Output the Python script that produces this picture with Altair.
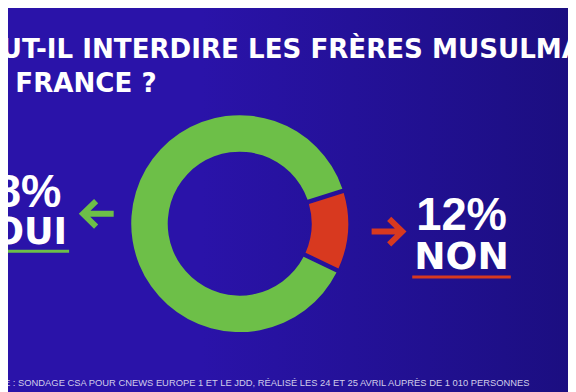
import math
import altair as alt
import pandas as pd

# ---- data ----
categories = ["NON", "OUI"]
values = [12, 88]
order = [0, 1]
colors = ["#d8391f", "#6dbf48"]
title_lines = ["FAUT-IL INTERDIRE LES FRÈRES MUSULMANS", "EN FRANCE ?"]
source_text = "SOURCE : SONDAGE CSA POUR CNEWS EUROPE 1 ET LE JDD, RÉALISÉ LES 24 ET 25 AVRIL AUPRÈS DE 1 010 PERSONNES"

W, H = 568, 384
BG_LEFT, BG_RIGHT = "#2a13a9", "#1b0e80"

one = pd.DataFrame({"k": [0]})

bg = alt.Chart(one).mark_rect(
    color=alt.Gradient(
        gradient="linear",
        stops=[alt.GradientStop(color=BG_LEFT, offset=0),
               alt.GradientStop(color=BG_LEFT, offset=0.35),
               alt.GradientStop(color=BG_RIGHT, offset=1)],
        x1=0, x2=1, y1=0, y2=0,
    )
).encode(x=alt.value(-10), x2=alt.value(W + 10), y=alt.value(-10), y2=alt.value(H + 10))

pie_df = pd.DataFrame({"cat": categories, "value": values, "ord": order})
start = math.radians(72.4)
donut = alt.Chart(pie_df).mark_arc(innerRadius=73, outerRadius=110, padAngle=0.035).encode(
    theta=alt.Theta("value:Q", stack=True, scale=alt.Scale(range=[start, start + 2 * math.pi])),
    color=alt.Color("cat:N", scale=alt.Scale(domain=categories, range=colors), legend=None),
    order=alt.Order("ord:Q"),
    x=alt.value(235),
    y=alt.value(216),
)


def text_layer(txt, x, y, size, align="left", font="DejaVu Sans", weight="bold", color="white"):
    return alt.Chart(pd.DataFrame({"t": [txt]})).mark_text(
        align=align, baseline="alphabetic", font=font, fontWeight=weight,
        fontSize=size, color=color,
    ).encode(x=alt.value(x), y=alt.value(y), text="t:N")


title1 = text_layer(title_lines[0], -42, 48, 26.5)
title2 = text_layer(title_lines[1], -42, 82, 26.5)

pct = {c: f"{v}%" for c, v in zip(categories, values)}
oui_pct = text_layer(pct["OUI"], 54, 199, 46, align="right", font="Liberation Sans")
oui_lbl = text_layer("OUI", 60, 237, 37, align="right")
non_pct = text_layer(pct["NON"], 414, 222, 46, align="left", font="Liberation Sans")
non_lbl = text_layer("NON", 412, 262, 38, align="left")


def underline(x1, x2, y, color):
    return alt.Chart(one).mark_rule(color=color, strokeWidth=3).encode(
        x=alt.value(x1), x2=alt.value(x2), y=alt.value(y)
    )


ul_green = underline(-8, 62, 244, colors[1])
ul_red = underline(410, 510, 270, colors[0])

LEFT_ARROW = "M 1 0 L -0.85 0 M -0.1 -0.8 L -0.92 0 L -0.1 0.8"
RIGHT_ARROW = "M -1 0 L 0.85 0 M 0.1 -0.8 L 0.92 0 L 0.1 0.8"


def arrow(path, x, y, color):
    return alt.Chart(one).mark_point(
        shape=path, filled=False, stroke=color, strokeWidth=6, size=1050,
        opacity=1, strokeJoin="miter", strokeCap="butt",
    ).encode(x=alt.value(x), y=alt.value(y))


arr_green = arrow(LEFT_ARROW, 91, 206, colors[1])
arr_red = arrow(RIGHT_ARROW, 385, 224, colors[0])

footer = text_layer(source_text, 529, 381, 9.5, align="right", font="Liberation Sans",
                    weight="normal", color="#d0cdea")

chart = alt.layer(
    bg, donut, title1, title2, oui_pct, oui_lbl, non_pct, non_lbl,
    ul_green, ul_red, arr_green, arr_red, footer,
).properties(
    width=W, height=H, autosize=alt.AutoSizeParams(type="none"), padding=0,
    background=BG_LEFT,
).configure_view(stroke=None)

chart.save("out.html", embed_options={"renderer": "svg", "actions": False})
